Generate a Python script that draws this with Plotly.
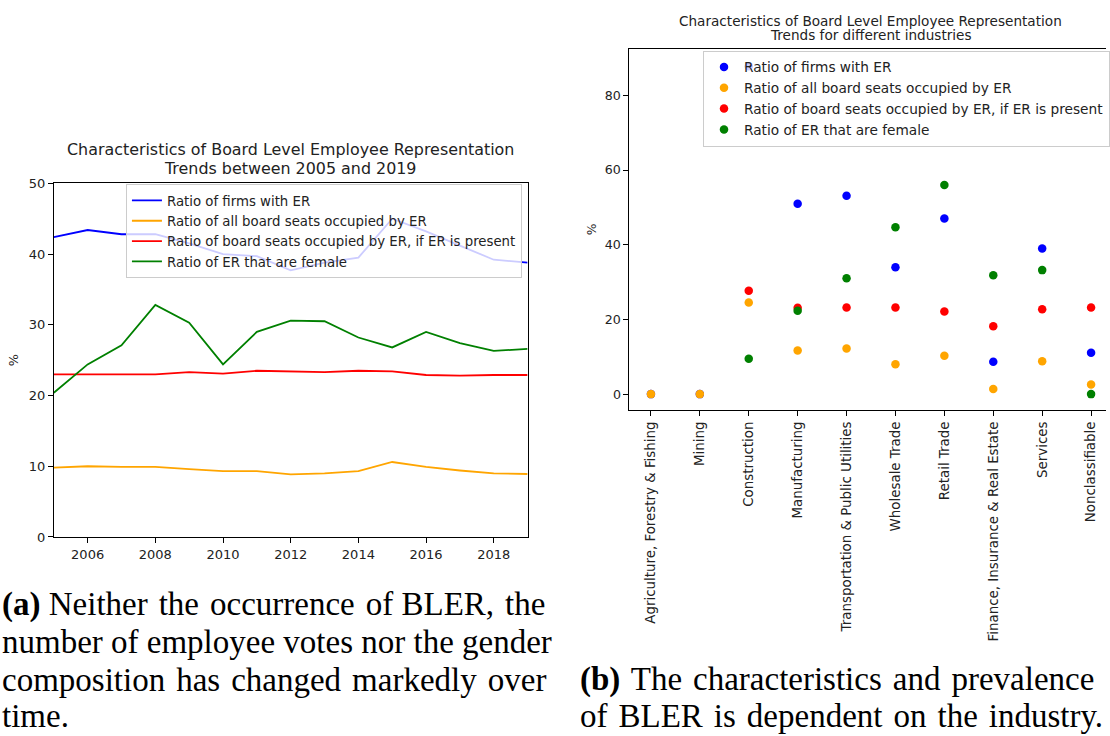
import plotly.graph_objects as go

# ---------- data: panel (a) trends 2005-2019 ----------
years = list(range(2005, 2020))
firms_with_er = [42.4, 43.4, 42.8, 42.8, 41.5, 40.0, 39.7, 37.7, 38.8, 39.5, 45.0, 43.2, 41.2, 39.2, 38.8]
all_seats_er = [9.8, 10.0, 9.9, 9.9, 9.6, 9.3, 9.3, 8.85, 9.0, 9.3, 10.6, 9.9, 9.4, 9.0, 8.9]
seats_if_present = [23.0, 23.0, 23.0, 23.0, 23.3, 23.1, 23.5, 23.4, 23.3, 23.5, 23.4, 22.9, 22.8, 22.9, 22.9]
er_female = [20.4, 24.4, 27.1, 32.8, 30.3, 24.4, 29.0, 30.6, 30.5, 28.2, 26.8, 29.0, 27.4, 26.3, 26.6]

# ---------- data: panel (b) industries ----------
industries = ["Agriculture, Forestry & Fishing", "Mining", "Construction", "Manufacturing",
              "Transportation & Public Utilities", "Wholesale Trade", "Retail Trade",
              "Finance, Insurance & Real Estate", "Services", "Nonclassifiable"]
ind_firms_with_er = [0, 0, 87.8, 51.0, 53.1, 34.0, 47.0, 8.7, 39.0, 11.1]
ind_all_seats_er = [0, 0, 24.5, 11.7, 12.2, 8.0, 10.3, 1.4, 8.8, 2.6]
ind_seats_if_present = [None, None, 27.7, 23.1, 23.2, 23.2, 22.1, 18.2, 22.7, 23.2]
ind_er_female = [None, None, 9.5, 22.3, 31.0, 44.7, 56.0, 31.8, 33.2, 0]

series_names = ["Ratio of firms with ER", "Ratio of all board seats occupied by ER",
                "Ratio of board seats occupied by ER, if ER is present", "Ratio of ER that are female"]
colors = ["blue", "orange", "red", "green"]

W, H = 1110, 736
def px(x): return x / W
def py(y): return 1 - y / H

FONT = "DejaVu Sans"
TXT = "#222222"

fig = go.Figure()

for name, vals, c in zip(series_names, [firms_with_er, all_seats_er, seats_if_present, er_female], colors):
    fig.add_trace(go.Scatter(x=years, y=vals, mode="lines", name=name,
                             line=dict(color=c, width=1.8), xaxis="x", yaxis="y",
                             legend="legend"))

for name, vals, c in zip(series_names, [ind_firms_with_er, ind_all_seats_er, ind_seats_if_present, ind_er_female], colors):
    fig.add_trace(go.Scatter(x=industries, y=vals, mode="markers", name=name,
                             marker=dict(color=c, size=8.5), xaxis="x2", yaxis="y2",
                             legend="legend2"))

axis_common = dict(showline=True, linecolor="black", linewidth=1, ticks="outside",
                   ticklen=5, tickcolor="black", showgrid=False, zeroline=False)

fig.update_layout(
    width=W, height=H, autosize=False,
    margin=dict(l=0, r=0, t=0, b=0),
    paper_bgcolor="white", plot_bgcolor="white",
    font=dict(family=FONT, color=TXT),
    xaxis=dict(domain=[px(54), px(529.5)], range=[2005, 2019], anchor="y",
               tickvals=[2006, 2008, 2010, 2012, 2014, 2016, 2018],
               tickfont=dict(size=13, family=FONT, color=TXT), mirror=True, **axis_common),
    yaxis=dict(domain=[py(541), py(180)], range=[0, 50], anchor="x",
               tickvals=[0, 10, 20, 30, 40, 50],
               tickfont=dict(size=13, family=FONT, color=TXT), mirror=True,
               title=dict(text="%", font=dict(size=12.8, family=FONT, color=TXT), standoff=7),
               **axis_common),
    xaxis2=dict(domain=[px(631.7), 1.0], range=[-0.44, 9.305], anchor="y2", type="category",
                tickangle=-90, tickfont=dict(size=13.4, family=FONT, color=TXT), mirror=True,
                **axis_common),
    yaxis2=dict(domain=[py(411.5), py(42.5)], range=[-4.28, 92.5], anchor="x2",
                tickvals=[0, 20, 40, 60, 80],
                tickfont=dict(size=12.6, family=FONT, color=TXT),
                title=dict(text="%", font=dict(size=12.3, family=FONT, color=TXT), standoff=5),
                **axis_common),
    legend=dict(x=px(126.4), y=py(181), xanchor="left", yanchor="top",
                bgcolor="rgba(255,255,255,0.8)", bordercolor="#cccccc", borderwidth=1,
                font=dict(size=13.3, family=FONT, color=TXT), tracegroupgap=0),
    legend2=dict(x=px(705.8), y=py(44.5), xanchor="left", yanchor="top",
                 bgcolor="rgba(255,255,255,0.8)", bordercolor="#cccccc", borderwidth=1,
                 font=dict(size=13.7, family=FONT, color=TXT), tracegroupgap=0),
    showlegend=True,
)

annotations = []
# titles (one annotation per line for matplotlib-like line spacing)
titles = [
    ("Characteristics of Board Level Employee Representation", 291.5, 145.8, 15.9),
    ("Trends between 2005 and 2019", 291.5, 165.2, 15.9),
    ("Characteristics of Board Level Employee Representation", 874, 14.6, 13.6),
    ("Trends for different industries", 874, 29.0, 13.6),
]
for t, xx, yy, fs in titles:
    annotations.append(dict(text=t, x=px(xx), y=py(yy), xref="paper", yref="paper",
                            xanchor="center", yanchor="middle", showarrow=False,
                            font=dict(size=fs, family=FONT, color=TXT)))

# captions
CAP_FONT = dict(size=33, family="Liberation Serif", color="black")
HS = "\u200a"  # hair space, to mimic justified text
cap_a = ["<b>(a)</b> Neither" + HS + " the" + HS + " occurrence" + HS + " of BLER," + HS + " the",
         "number of employee votes nor the gender",
         "composition" + HS + " has" + HS + " changed" + HS + " markedly" + HS + " over",
         "time."]
cap_a_y = [609.5, 648, 686.5, 724]
for t, yy in zip(cap_a, cap_a_y):
    annotations.append(dict(text=t, x=0, y=py(yy), xref="paper", yref="paper", xanchor="left",
                            yanchor="middle", showarrow=False, font=CAP_FONT))
cap_b = ["<b>(b)</b>" + HS + " The" + HS + " characteristics" + HS + " and" + HS + " prevalence",
         "of" + HS + " BLER" + HS + " is" + HS + " dependent" + HS + " on" + HS + " the" + HS + " industry."]
cap_b_y = [686.5, 724]
for t, yy in zip(cap_b, cap_b_y):
    annotations.append(dict(text=t, x=px(580), y=py(yy), xref="paper", yref="paper", xanchor="left",
                            yanchor="middle", showarrow=False, font=CAP_FONT))

fig.update_layout(annotations=annotations)

fig.write_html("out.html", config={"displayModeBar": False},
               post_script="document.body.style.margin='0';document.body.style.overflow='hidden';")
